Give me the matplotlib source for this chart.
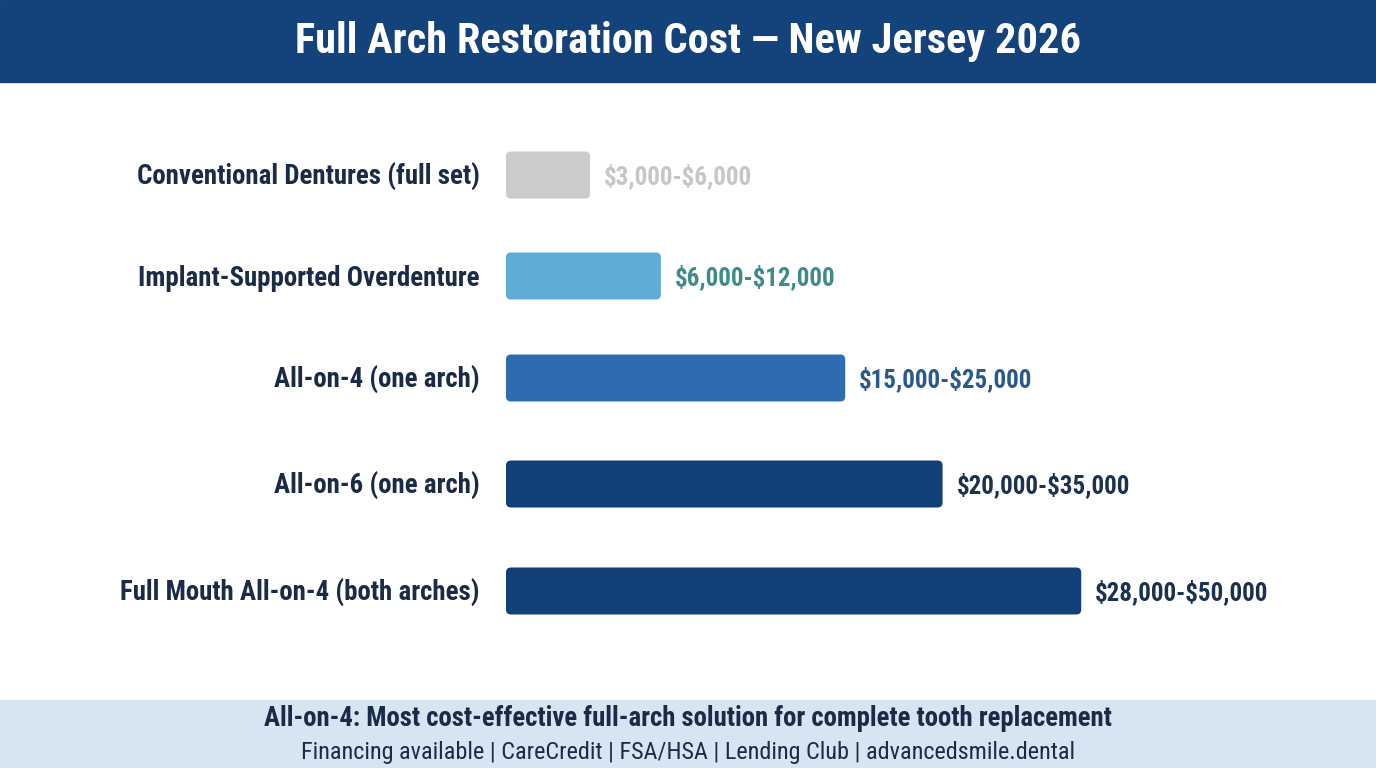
import matplotlib.pyplot as plt
from matplotlib.patches import FancyBboxPatch, Rectangle

plt.rcParams["text.parse_math"] = False

# data
categories = ["Conventional Dentures (full set)", "Implant-Supported Overdenture",
              "All-on-4 (one arch)", "All-on-6 (one arch)",
              "Full Mouth All-on-4 (both arches)"]
bar_values = [5700, 10500, 23000, 29600, 39000]   # drawn bar length
price_labels = ["$3,000-$6,000", "$6,000-$12,000", "$15,000-$25,000",
                "$20,000-$35,000", "$28,000-$50,000"]
bar_colors = ["#cbcbcb", "#5eadd7", "#2e6bb0", "#133f78", "#133f78"]
label_colors = ["#c6c6c6", "#3e8c8a", "#2a5a8a", "#1c3050", "#1c3050"]

title = "Full Arch Restoration Cost \u2014 New Jersey 2026"
footer1 = "All-on-4: Most cost-effective full-arch solution for complete tooth replacement"
footer2 = "Financing available | CareCredit | FSA/HSA | Lending Club | advancedsmile.dental"

FONT = ["Roboto Condensed", "DejaVu Sans"]
NAVY = "#14427a"
TXT = "#1b2b47"

W, H = 1376, 768
fig = plt.figure(figsize=(W / 100, H / 100), dpi=100)
fig.patch.set_facecolor("white")

# header + footer bands
fig.patches.append(Rectangle((0, 1 - 82 / H), 1, 82 / H, transform=fig.transFigure,
                             color=NAVY, zorder=0))
fig.patches.append(Rectangle((0, 0), 1, 68 / H, transform=fig.transFigure,
                             color="#d5e5f2", zorder=0))
fig.text(0.5, 1 - 42 / H, title, ha="center", va="center", color="white",
         fontsize=30.5, fontweight="bold", family=FONT)
fig.text(0.5, 1 - 719 / H, footer1, ha="center", va="center", color=TXT,
         fontsize=19.3, fontweight="bold", family=FONT)
fig.text(0.5, 1 - 752 / H, footer2, ha="center", va="center", color=TXT,
         fontsize=17.4, family=FONT)

# axes in pixel-like units: x=0 at pixel 506, 1 px ~ 67.8 dollars, y in pixels from top
px_x = 67.8
ax_top, ax_bot = 82, 700
ax = fig.add_axes([506 / W, 1 - ax_bot / H, (W - 506) / W, (ax_bot - ax_top) / H])
ax.set_xlim(0, (W - 506) * px_x)
ax.set_ylim(ax_bot, ax_top)
ax.axis("off")

row_y = [175, 276, 378, 484, 591]   # row centres (layout)
bh = 47
for y, cat, v, lab, bc, lc in zip(row_y, categories, bar_values, price_labels,
                                  bar_colors, label_colors):
    patch = FancyBboxPatch((0, y - bh / 2), v, bh,
                           boxstyle="round,pad=0,rounding_size=%f" % (5 * px_x),
                           mutation_aspect=1 / px_x,
                           facecolor=bc, edgecolor="none")
    ax.add_patch(patch)
    ax.text(v + 14 * px_x, y + 1, lab, ha="left", va="center", color=lc,
            fontsize=18, fontweight="bold", family=FONT)
    ax.text(-26 * px_x, y + 2, cat, ha="right", va="center", color=TXT,
            fontsize=19.4, fontweight="bold", family=FONT, clip_on=False)

fig.savefig("out.png", dpi=100)
